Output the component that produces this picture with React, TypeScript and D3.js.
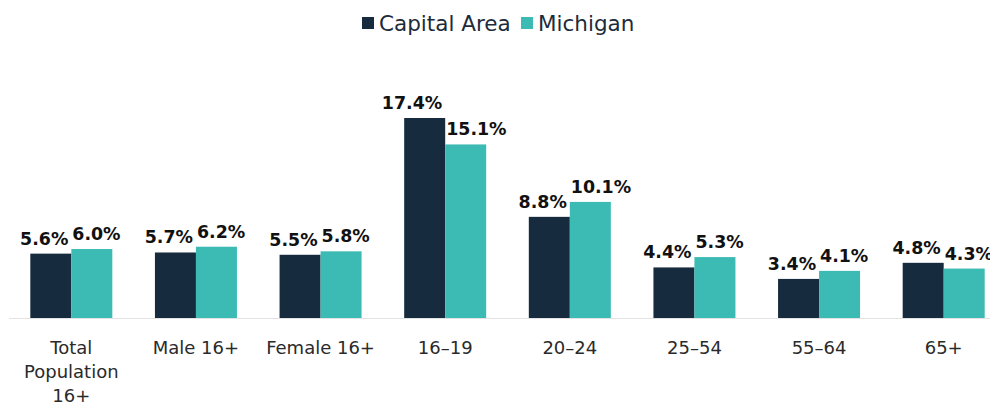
import React from "react";
import * as d3 from "d3";

const categories = ["Total Population 16+", "Male 16+", "Female 16+", "16–19", "20–24", "25–54", "55–64", "65+"];
const seriesNames = ["Capital Area", "Michigan"];
const capitalArea = [5.6, 5.7, 5.5, 17.4, 8.8, 4.4, 3.4, 4.8];
const michigan = [6.0, 6.2, 5.8, 15.1, 10.1, 5.3, 4.1, 4.3];
const colors = ["#172b3e", "#3bbbb4"];

const W = 990;
const H = 404;
const FONT = "'DejaVu Sans', sans-serif";

function wrap(label: string): string[] {
  if (label.length > 12) return label.split(" ");
  return [label];
}

export default function App() {
  const x0 = d3.scaleBand<string>().domain(categories).range([9, 1006]).paddingInner(0.342).paddingOuter(0.171);
  const x1 = d3.scaleBand<string>().domain(seriesNames).range([0, x0.bandwidth()]);
  const y = d3.scaleLinear().domain([0, 17.4]).range([318, 118]);
  const series = [capitalArea, michigan];

  return (
    <svg width={W} height={H} style={{ position: "absolute", left: 0, top: 0, background: "#fff" }} fontFamily={FONT}>
      {/* legend */}
      <g>
        <rect x={362} y={17} width={12} height={12} fill={colors[0]} />
        <text x={379} y={30.5} fontSize={21.5} fill="#1d2b3a">{seriesNames[0]}</text>
        <rect x={521} y={17} width={12} height={12} fill={colors[1]} />
        <text x={538} y={30.5} fontSize={21.5} fill="#1d2b3a">{seriesNames[1]}</text>
      </g>
      {/* baseline */}
      <line x1={9} x2={990} y1={318.5} y2={318.5} stroke="#e3e3e3" strokeWidth={1} />
      {categories.map((c, i) => (
        <g key={c}>
          {series.map((s, j) => {
            const bx = (x0(c) ?? 0) + (x1(seriesNames[j]) ?? 0);
            const bw = x1.bandwidth();
            const v = s[i];
            return (
              <g key={j}>
                <rect x={bx} y={y(v)} width={bw} height={y(0) - y(v)} fill={colors[j]} />
                <text
                  x={j === 0 ? bx + bw - 3 : bx + 1}
                  y={y(v) - 9}
                  textAnchor={j === 0 ? "end" : "start"}
                  fontSize={17.4}
                  fontWeight="bold"
                  fill="#111"
                >
                  {v.toFixed(1) + "%"}
                </text>
              </g>
            );
          })}
          <text x={(x0(c) ?? 0) + x0.bandwidth() / 2} y={354} textAnchor="middle" fontSize={18} fill="#2a2a2a">
            {wrap(c).map((l, k) => (
              <tspan key={k} x={(x0(c) ?? 0) + x0.bandwidth() / 2} dy={k === 0 ? 0 : 24}>{l}</tspan>
            ))}
          </text>
        </g>
      ))}
    </svg>
  );
}
